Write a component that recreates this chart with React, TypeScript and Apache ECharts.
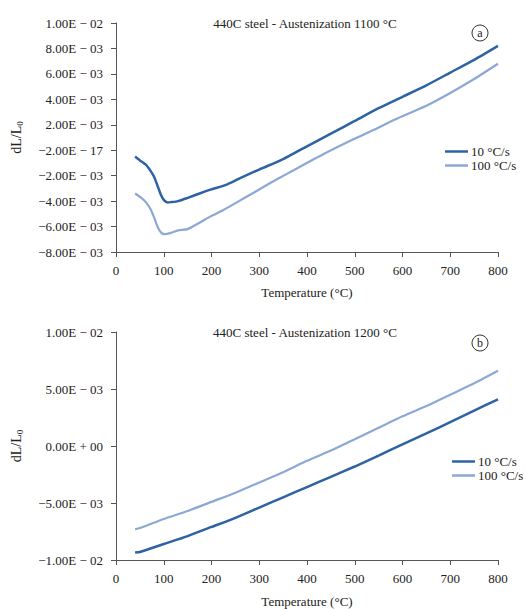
import React, { useEffect, useRef } from "react";
import * as echarts from "echarts";

// ---- data ----
const seriesNames = ["10 °C/s", "100 °C/s"];
const xTicks = [0, 100, 200, 300, 400, 500, 600, 700, 800];

const yTicksA = [
  "−8.00E − 03", "−6.00E − 03", "−4.00E − 03", "−2.00E − 03", "−2.00E − 17",
  "2.00E − 03", "4.00E − 03", "6.00E − 03", "8.00E − 03", "1.00E − 02",
];
const yTicksB = ["−1.00E − 02", "−5.00E − 03", "0.00E + 00", "5.00E − 03", "1.00E − 02"];

const tempA10 = [40, 50, 63, 72, 80, 88, 94, 100, 108, 115, 130, 149, 175, 198, 232, 260, 301, 350, 397, 450, 500, 550, 600, 650, 700, 750, 800];
const valA10 = [-0.0005, -0.0008, -0.00115, -0.0016, -0.0021, -0.0029, -0.0035, -0.0039, -0.0041, -0.00408, -0.004, -0.00376, -0.0034, -0.0031, -0.0027, -0.0022, -0.0015, -0.0007, 0.00025, 0.0013, 0.0023, 0.0033, 0.0042, 0.0051, 0.0061, 0.0071, 0.0082];

const tempA100 = [40, 55, 63, 72, 80, 88, 95, 102, 115, 130, 150, 175, 198, 225, 253, 290, 322, 356, 390, 440, 494, 540, 583, 650, 700, 750, 800];
const valA100 = [-0.0034, -0.0038, -0.0041, -0.0046, -0.0053, -0.0061, -0.0065, -0.0066, -0.0065, -0.0063, -0.0062, -0.0057, -0.0052, -0.0047, -0.0041, -0.0033, -0.0026, -0.0019, -0.0012, -0.0002, 0.0008, 0.0016, 0.0024, 0.0035, 0.0045, 0.0056, 0.0068];

const tempB10 = [40, 50, 100, 150, 200, 250, 300, 350, 400, 450, 500, 550, 600, 650, 700, 750, 800];
const valB10 = [-0.00935, -0.0093, -0.0086, -0.0079, -0.0071, -0.0063, -0.0054, -0.0045, -0.0036, -0.0027, -0.0018, -0.00085, 0.00015, 0.0011, 0.0021, 0.0031, 0.0041];

const tempB100 = [40, 50, 100, 150, 200, 250, 300, 350, 400, 450, 500, 550, 600, 650, 700, 750, 800];
const valB100 = [-0.0073, -0.0072, -0.0064, -0.0057, -0.0049, -0.0041, -0.0032, -0.0023, -0.0013, -0.0004, 0.0006, 0.0016, 0.0026, 0.0035, 0.0045, 0.0055, 0.0066];

const titles = ["440C steel - Austenization 1100 °C", "440C steel - Austenization 1200 °C"];
const panelTags = ["a", "b"];

const FONT = "'Liberation Serif', 'Times New Roman', Times, serif";
const DARK = "#2e63a3";
const LIGHT = "#8ca8d4";
const AXIS = "#555";

const zip = (xs: number[], ys: number[]) => xs.map((x, i) => [x, ys[i]]);

export default function App() {
  const ref = useRef<HTMLDivElement>(null);
  useEffect(() => {
    if (!ref.current) return;
    const chart = echarts.init(ref.current, null, { renderer: "svg" });
    const txt = { fontFamily: FONT, fontSize: 13, color: "#222" };
    const grids = [
      { left: 111, top: 23, width: 387, height: 229 },
      { left: 111, top: 332, width: 387, height: 229.5 },
    ];
    const xAxis = [0, 1].map((g) => ({
      type: "value",
      gridIndex: g,
      min: 0,
      max: 800,
      interval: 100,
      name: "Temperature (°C)",
      nameLocation: "middle",
      nameGap: g === 0 ? 34 : 35,
      nameTextStyle: { ...txt },
      axisLine: { show: true, onZero: false, lineStyle: { color: AXIS, width: 1 } },
      axisTick: { show: true, length: 5, lineStyle: { color: AXIS } },
      axisLabel: { ...txt, margin: 12, formatter: (v: number) => String(xTicks[Math.round(v / 100)]) },
      splitLine: { show: false },
    }));
    const yAxis = [
      {
        type: "value", gridIndex: 0, min: -0.008, max: 0.01, interval: 0.002,
        labels: yTicksA, lo: -0.008, step: 0.002,
      },
      {
        type: "value", gridIndex: 1, min: -0.01, max: 0.01, interval: 0.005,
        labels: yTicksB, lo: -0.01, step: 0.005,
      },
    ].map((a) => ({
      type: a.type,
      gridIndex: a.gridIndex,
      min: a.min,
      max: a.max,
      interval: a.interval,
      name: "{m|dL/L}{s|0}",
      nameLocation: "middle",
      nameRotate: 90,
      nameGap: 91,
      nameTextStyle: {
        rich: {
          m: { fontFamily: FONT, fontSize: 14, color: "#222", lineHeight: 18 },
          s: { fontFamily: FONT, fontSize: 9, color: "#222", lineHeight: 18, padding: [7, 0, 0, 0] },
        },
      },
      axisLine: { show: true, onZero: false, lineStyle: { color: AXIS, width: 1 } },
      axisTick: { show: true, length: 5, lineStyle: { color: AXIS } },
      axisLabel: {
        ...txt,
        margin: 13,
        formatter: (v: number) => a.labels[Math.round((v - a.lo) / a.step)] ?? "",
      },
      splitLine: { show: false },
    }));
    const mk = (name: string, xi: number, data: number[][], color: string, w: number) => ({
      type: "line",
      name,
      xAxisIndex: xi,
      yAxisIndex: xi,
      data,
      showSymbol: false,
      symbol: "none",
      smooth: 0.2,
      lineStyle: { color, width: w },
      itemStyle: { color },
    });
    const legendCommon = {
      orient: "vertical",
      data: seriesNames,
      icon: "rect",
      padding: 0,
      itemWidth: 23,
      itemHeight: 2.5,
      itemGap: 1,
      textStyle: { ...txt, padding: [0, 0, 0, -2] },
      selectedMode: false,
    };
    const graphic: any[] = [];
    [0, 1].forEach((i) => {
      const ty = i === 0 ? 23 : 332;
      const cy = i === 0 ? 33 : 343;
      graphic.push({
        type: "text",
        x: 305,
        y: ty,
        style: { text: titles[i], fontFamily: FONT, fontSize: 13, fill: "#222", textAlign: "center", textVerticalAlign: "middle" },
      });
      graphic.push({
        type: "circle",
        shape: { cx: 480, cy, r: 8 },
        style: { fill: "none", stroke: "#333", lineWidth: 1 },
      });
      graphic.push({
        type: "text",
        x: 480,
        y: cy,
        style: { text: panelTags[i], fontFamily: FONT, fontSize: 12, fill: "#222", textAlign: "center", textVerticalAlign: "middle" },
      });
    });
    chart.setOption({
      animation: false,
      backgroundColor: "#fff",
      grid: grids,
      xAxis,
      yAxis,
      legend: [
        { ...legendCommon, left: 445, top: 145 },
        { ...legendCommon, left: 452, top: 455 },
      ],
      series: [
        mk(seriesNames[0], 0, zip(tempA10, valA10), DARK, 2.5),
        mk(seriesNames[1], 0, zip(tempA100, valA100), LIGHT, 2.2),
        mk(seriesNames[0], 1, zip(tempB10, valB10), DARK, 2.5),
        mk(seriesNames[1], 1, zip(tempB100, valB100), LIGHT, 2.2),
      ],
      graphic,
    });
    return () => chart.dispose();
  }, []);
  return <div ref={ref} style={{ position: "absolute", left: 0, top: 0, width: 525, height: 609 }} />;
}
